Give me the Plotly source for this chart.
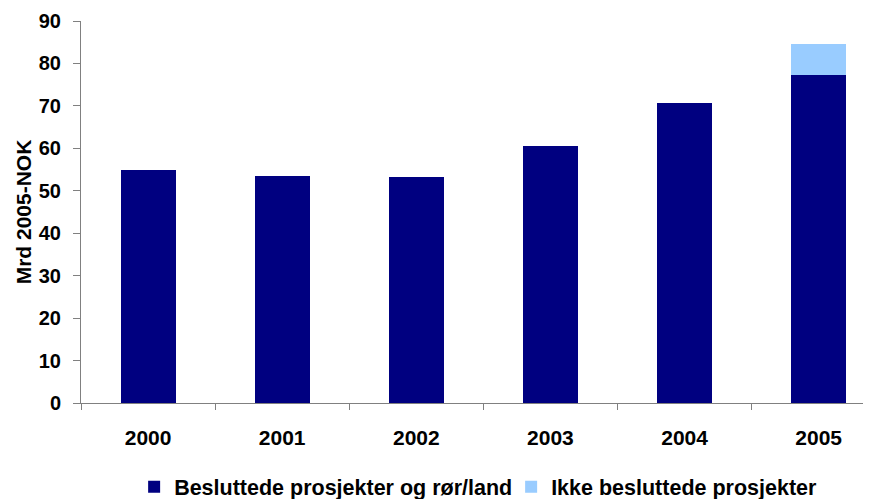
import plotly.graph_objects as go

years = ["2000", "2001", "2002", "2003", "2004", "2005"]
besluttede = [54.8, 53.4, 53.2, 60.5, 70.6, 77.2]
ikke_besluttede = [0, 0, 0, 0, 0, 7.3]
y_ticks = [0, 10, 20, 30, 40, 50, 60, 70, 80, 90]

FONT = "Liberation Sans"

fig = go.Figure()
fig.add_trace(go.Bar(x=years, y=besluttede, name="Besluttede prosjekter og rør/land",
                     marker=dict(color="#000080", line=dict(width=0)), width=0.41))
fig.add_trace(go.Bar(x=years, y=ikke_besluttede, name="Ikke besluttede prosjekter",
                     marker=dict(color="#99CCFF", line=dict(width=0)), width=0.41))

fig.update_layout(
    barmode="stack",
    width=863, height=491,
    margin=dict(l=73, r=0, t=13, b=96),
    plot_bgcolor="white", paper_bgcolor="white",
    font=dict(family=FONT, size=21, color="black"),
    showlegend=True,
    legend=dict(orientation="h", x=0.583, xanchor="center", xref="container",
                y=0.025, yanchor="middle", yref="container",
                font=dict(family=FONT, size=21.5, color="black", weight="bold"),
                traceorder="normal", itemwidth=30, tracegroupgap=0,
                entrywidth=332, entrywidthmode="pixels"),
    xaxis=dict(type="category", range=[-0.5, 5.39], showgrid=False, automargin=False,
               showline=True, linecolor="#808080", linewidth=1,
               ticks="outside", tickson="boundaries", ticklen=6, tickcolor="#808080",
               ticklabelstandoff=16,
               tickfont=dict(family=FONT, size=21, weight="bold")),
    yaxis=dict(range=[0, 90], tickvals=y_ticks, showgrid=False, zeroline=False, automargin=False,
               showline=True, linecolor="#808080", linewidth=1,
               ticks="outside", ticklen=7, tickcolor="#808080", ticklabelstandoff=8,
               tickfont=dict(family=FONT, size=20, weight="bold"),
               title=dict(text="Mrd 2005-NOK", standoff=1,
                          font=dict(family=FONT, size=21, weight="bold"))),
)

fig.write_html("out.html")
